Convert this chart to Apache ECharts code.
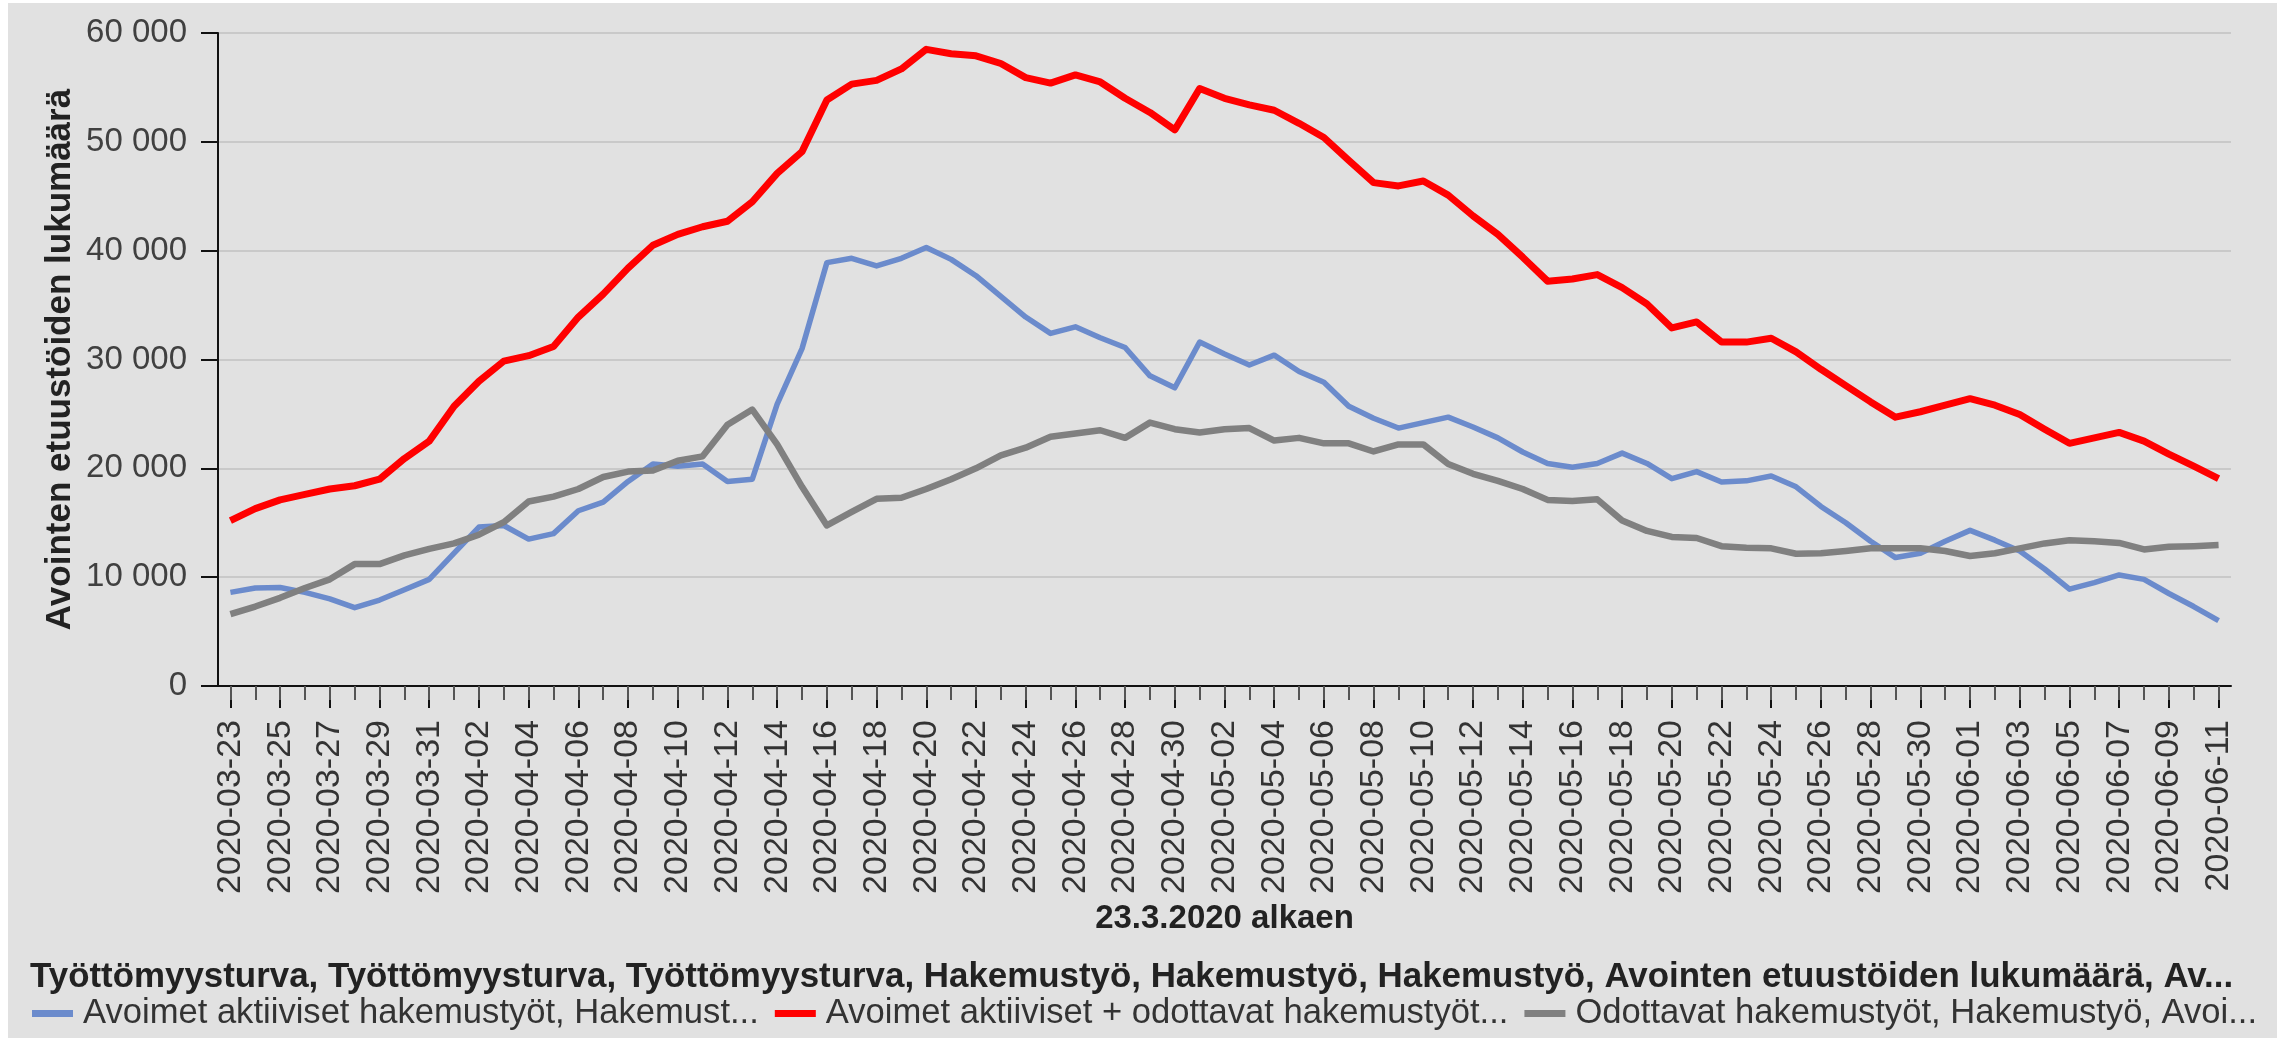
<!DOCTYPE html>
<html lang="fi">
<head>
<meta charset="UTF-8">
<title>Avointen etuustöiden lukumäärä</title>
<script src="https://cdn.jsdelivr.net/npm/echarts@6/dist/echarts.min.js"></script>
<style>
  html, body { margin: 0; padding: 0; background: #fff; }
  #chart { width: 2277px; height: 1038px; }
</style>
</head>
<body>
<div id="chart"></div>
<script>
// 23.3.2020 alkaen, päivittäin
const dates = [
  '2020-03-23','2020-03-24','2020-03-25','2020-03-26','2020-03-27','2020-03-28','2020-03-29','2020-03-30','2020-03-31',
  '2020-04-01','2020-04-02','2020-04-03','2020-04-04','2020-04-05','2020-04-06','2020-04-07','2020-04-08','2020-04-09','2020-04-10',
  '2020-04-11','2020-04-12','2020-04-13','2020-04-14','2020-04-15','2020-04-16','2020-04-17','2020-04-18','2020-04-19','2020-04-20',
  '2020-04-21','2020-04-22','2020-04-23','2020-04-24','2020-04-25','2020-04-26','2020-04-27','2020-04-28','2020-04-29','2020-04-30',
  '2020-05-01','2020-05-02','2020-05-03','2020-05-04','2020-05-05','2020-05-06','2020-05-07','2020-05-08','2020-05-09','2020-05-10',
  '2020-05-11','2020-05-12','2020-05-13','2020-05-14','2020-05-15','2020-05-16','2020-05-17','2020-05-18','2020-05-19','2020-05-20',
  '2020-05-21','2020-05-22','2020-05-23','2020-05-24','2020-05-25','2020-05-26','2020-05-27','2020-05-28','2020-05-29','2020-05-30',
  '2020-05-31','2020-06-01','2020-06-02','2020-06-03','2020-06-04','2020-06-05','2020-06-06','2020-06-07','2020-06-08','2020-06-09',
  '2020-06-10','2020-06-11'
];

const aktiiviset = [
  8600, 9000, 9050, 8600, 8000, 7200, 7900, 8850, 9800, 12200,
  14600, 14750, 13500, 14000, 16100, 16900, 18800, 20400, 20200, 20400,
  18800, 19000, 25900, 31000, 38900, 39300, 38600, 39300, 40300, 39200,
  37700, 35800, 33900, 32400, 33000, 32000, 31100, 28500, 27400, 31600,
  30500, 29500, 30400, 28900, 27900, 25700, 24600, 23700, 24200, 24700,
  23800, 22800, 21500, 20450, 20100, 20450, 21400, 20450, 19050, 19700,
  18750, 18850, 19300, 18300, 16500, 15000, 13300, 11800, 12200, 13300,
  14300, 13400, 12400, 10750, 8900, 9500, 10200, 9800, 8500, 7300,
  6000
];

const yhteensa = [
  15200, 16300, 17100, 17600, 18100, 18400, 19000, 20900, 22500, 25700,
  28000, 29850, 30350, 31200, 33900, 36000, 38400, 40500, 41500, 42200,
  42700, 44500, 47100, 49100, 53850, 55300, 55650, 56700, 58500, 58100,
  57900, 57200, 55900, 55400, 56150, 55500, 54000, 52700, 51100, 54900,
  54000, 53400, 52900, 51700, 50400, 48300, 46250, 45950, 46400, 45100,
  43200, 41500, 39400, 37200, 37400, 37800, 36600, 35100, 32900, 33450,
  31600, 31600, 31950, 30700, 29100, 27600, 26100, 24700, 25200, 25800,
  26400, 25800, 24950, 23600, 22300, 22800, 23300, 22500, 21300, 20200,
  19050
];

const odottavat = [
  6600, 7300, 8100, 9000, 9800, 11200, 11200, 12000, 12600, 13100,
  13900, 15050, 16950, 17400, 18100, 19200, 19700, 19800, 20700, 21100,
  24000, 25400, 22200, 18300, 14750, 16000, 17200, 17300, 18100, 19000,
  20000, 21200, 21900, 22900, 23200, 23500, 22800, 24200, 23600, 23300,
  23600, 23700, 22550, 22800, 22300, 22300, 21550, 22200, 22200, 20400,
  19500, 18850, 18100, 17100, 17000, 17150, 15200, 14250, 13700, 13600,
  12850, 12700, 12650, 12150, 12200, 12400, 12650, 12650, 12650, 12400,
  11950, 12200, 12650, 13100, 13400, 13300, 13150, 12550, 12800, 12850,
  12950
];

const seriesNames = [
  'Avoimet aktiiviset hakemustyöt, Hakemust...',
  'Avoimet aktiiviset + odottavat hakemustyöt...',
  'Odottavat hakemustyöt, Hakemustyö, Avoi...'
];
const seriesColors = ['#6b8bcc', '#ff0000', '#808080'];

const titleText = 'Työttömyysturva, Työttömyysturva, Työttömyysturva, Hakemustyö, Hakemustyö, Hakemustyö, Avointen etuustöiden lukumäärä, Av...';
const yName = 'Avointen etuustöiden lukumäärä';
const xName = '23.3.2020 alkaen';

const FONT = '"Liberation Sans", Arial, sans-serif';

const chart = echarts.init(document.getElementById('chart'));

function spaced(v) {
  return String(v).replace(/\B(?=(\d{3})+(?!\d))/g, ' ');
}

const option = {
  animation: false,
  backgroundColor: '#e1e1e1',
  textStyle: { fontFamily: FONT },
  graphic: [
    { type: 'rect', left: 0, top: 0, shape: { width: 2277, height: 3 }, style: { fill: '#ffffff' } },
    { type: 'rect', left: 0, top: 0, shape: { width: 8, height: 1038 }, style: { fill: '#ffffff' } }
  ],
  title: {
    text: titleText,
    left: 30,
    top: 960,
    padding: 0,
    textStyle: { fontFamily: FONT, fontSize: 34.9, fontWeight: 'bold', color: '#222' }
  },
  legend: {
    data: seriesNames,
    left: 32,
    top: 996,
    padding: 0,
    itemGap: 16,
    itemWidth: 41,
    itemHeight: 7,
    icon: 'rect',
    textStyle: { fontFamily: FONT, fontSize: 34.6, color: '#333', padding: [0, 0, 0, 5] }
  },
  grid: {
    left: 218,
    right: 46,
    top: 33,
    bottom: 352,
    containLabel: false,
    outerBoundsMode: 'none'
  },
  xAxis: [
    {
      type: 'category',
      data: dates,
      boundaryGap: true,
      name: xName,
      nameLocation: 'middle',
      nameGap: 216,
      nameMoveOverlap: false,
      nameTextStyle: { fontFamily: FONT, fontSize: 33, fontWeight: 'bold', color: '#222' },
      axisLine: { show: true, lineStyle: { color: '#111', width: 2 } },
      axisTick: { show: true, alignWithLabel: true, interval: 1, length: 22, lineStyle: { color: '#111', width: 2 } },
      axisLabel: { interval: 1, rotate: 90, margin: 34, fontSize: 34, color: '#333', fontFamily: FONT },
      splitLine: { show: false }
    },
    {
      type: 'category',
      data: dates,
      boundaryGap: true,
      position: 'bottom',
      axisLine: { show: false },
      axisTick: { show: true, alignWithLabel: true, interval: 0, length: 14, lineStyle: { color: '#555', width: 2 } },
      axisLabel: { show: false },
      splitLine: { show: false }
    }
  ],
  yAxis: {
    type: 'value',
    min: 0,
    max: 60000,
    interval: 10000,
    name: yName,
    nameLocation: 'middle',
    nameGap: 140,
    nameMoveOverlap: false,
    nameTextStyle: { fontFamily: FONT, fontSize: 35, fontWeight: 'bold', color: '#222' },
    axisLine: { show: true, lineStyle: { color: '#111', width: 2 } },
    axisTick: { show: true, length: 17, lineStyle: { color: '#111', width: 2 } },
    axisLabel: { margin: 31, fontSize: 33, color: '#404040', fontFamily: FONT, formatter: spaced },
    splitLine: { show: true, lineStyle: { color: '#c9c9c9', width: 2 } }
  },
  series: [aktiiviset, yhteensa, odottavat].map((d, i) => ({
    name: seriesNames[i],
    type: 'line',
    data: d,
    xAxisIndex: 0,
    showSymbol: false,
    symbol: 'none',
    color: seriesColors[i],
    lineStyle: { width: [5.5, 7, 6.5][i], color: seriesColors[i], join: 'round' }
  }))
};

chart.setOption(option);
</script>
</body>
</html>
